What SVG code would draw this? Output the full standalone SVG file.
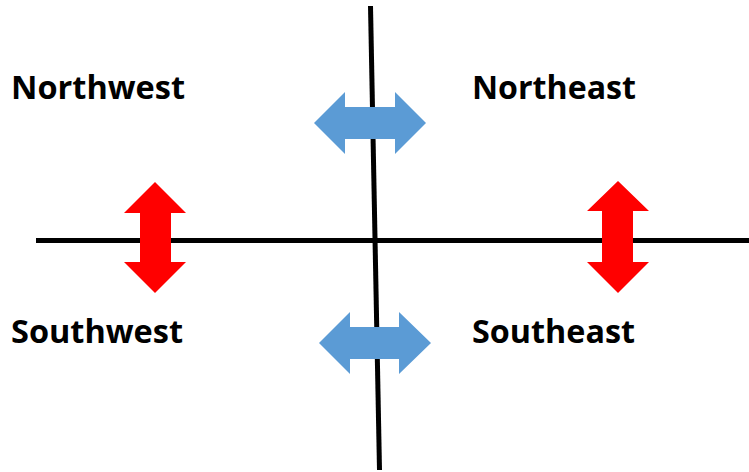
<svg xmlns="http://www.w3.org/2000/svg" width="749" height="472" viewBox="0 0 749 472">
<style>
.lbl{font-family:"Open Sans","Noto Sans","Liberation Sans",sans-serif;font-weight:bold;font-size:33px;fill:#000}
.axis{stroke:#000;stroke-width:5;fill:none}
.blue{fill:#5b9bd5}
.red{fill:#ff0000}
</style>
<rect width="749" height="472" fill="#fff"/>
<g id="connectors">
<line class="axis" x1="36" y1="240.5" x2="749" y2="240.5"/>
<line class="axis" x1="370.5" y1="6" x2="379.5" y2="470"/>
</g>
<g id="arrow-north">
<polygon class="blue" points="314,123 345,92 345,107 395,107 395,92 426,123 395,154 395,139 345,139 345,154"/>
</g>
<g id="arrow-south">
<polygon class="blue" points="319,343 350,312 350,327 399,327 399,312 431,343 399,374 399,359 350,359 350,374"/>
</g>
<g id="arrow-west">
<polygon class="red" points="155,182 186,213 171,213 171,262 186,262 155,293 124,262 140,262 140,213 124,213"/>
</g>
<g id="arrow-east">
<polygon class="red" points="618,181 649,211 633,211 633,262 649,262 618,293 587,262 602,262 602,211 587,211"/>
</g>
<g id="label-northwest"><text class="lbl" x="11" y="99" textLength="174" lengthAdjust="spacingAndGlyphs">Northwest</text></g>
<g id="label-northeast"><text class="lbl" x="472" y="99" textLength="164" lengthAdjust="spacingAndGlyphs">Northeast</text></g>
<g id="label-southwest"><text class="lbl" x="11" y="343" textLength="172" lengthAdjust="spacingAndGlyphs">Southwest</text></g>
<g id="label-southeast"><text class="lbl" x="472" y="343" textLength="163" lengthAdjust="spacingAndGlyphs">Southeast</text></g>
</svg>
